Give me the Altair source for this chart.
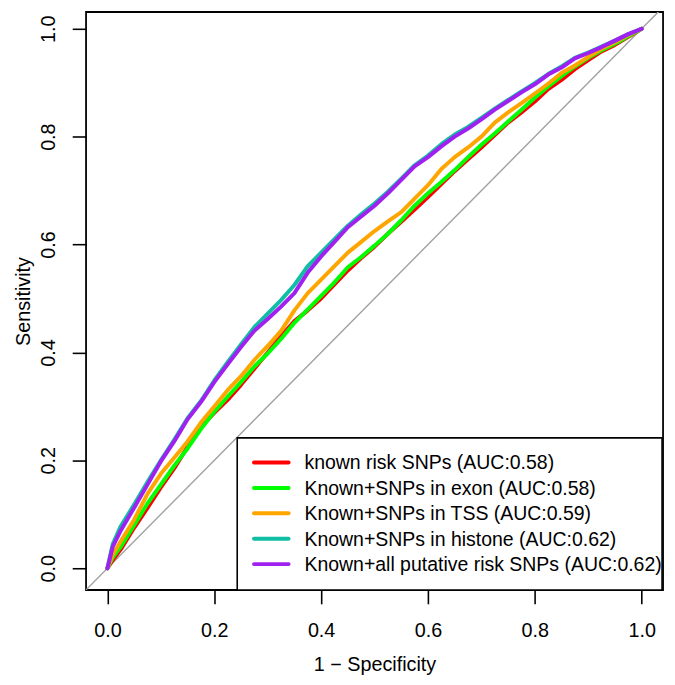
import altair as alt
import pandas as pd

# ---------------- data ----------------
fpr = [0.0, 0.01, 0.025, 0.05, 0.075, 0.1, 0.125, 0.15, 0.175, 0.2, 0.225, 0.25,
       0.275, 0.3, 0.325, 0.35, 0.375, 0.4, 0.425, 0.45, 0.475, 0.5, 0.525, 0.55,
       0.575, 0.6, 0.625, 0.65, 0.675, 0.7, 0.725, 0.75, 0.775, 0.8, 0.825, 0.85,
       0.875, 0.9, 0.925, 0.95, 0.975, 1.0]

tpr_known = [0, .015, .035, .075, .112, .15, .185, .225, .262, .288, .312, .34,
             .37, .40, .43, .458, .478, .50, .526, .552, .575, .596, .62, .642,
             .665, .688, .712, .736, .758, .78, .803, .826, .845, .865, .888, .905,
             .925, .942, .958, .97, .985, 1]
tpr_exon = [0, .02, .04, .08, .12, .155, .19, .222, .258, .29, .318, .345,
            .374, .398, .425, .455, .48, .505, .53, .558, .577, .598, .62, .645,
            .672, .695, .716, .738, .762, .785, .806, .828, .85, .872, .893, .912,
            .93, .946, .96, .972, .986, 1]
tpr_tss = [0, .025, .05, .09, .138, .175, .205, .235, .27, .30, .33, .356,
           .386, .412, .44, .478, .51, .535, .56, .585, .605, .625, .643, .66,
           .685, .71, .74, .762, .78, .80, .826, .845, .862, .88, .898, .918,
           .932, .948, .963, .975, .988, 1]
tpr_histone = [0, .045, .078, .118, .16, .20, .238, .278, .31, .348, .382, .415,
               .447, .472, .497, .525, .56, .585, .61, .635, .656, .676, .698, .722,
               .747, .765, .786, .804, .818, .835, .852, .868, .884, .899, .916, .93,
               .946, .956, .967, .978, .99, 1]
tpr_all = [0, .04, .07, .112, .155, .198, .235, .276, .308, .345, .378, .41,
           .44, .462, .485, .51, .548, .578, .605, .632, .652, .672, .695, .72,
           .745, .762, .782, .80, .815, .832, .85, .866, .882, .897, .915, .928,
           .945, .955, .966, .978, .99, 1]

series_names = ["known risk SNPs (AUC:0.58)",
                "Known+SNPs in exon (AUC:0.58)",
                "Known+SNPs in TSS (AUC:0.59)",
                "Known+SNPs in histone (AUC:0.62)",
                "Known+all putative risk SNPs (AUC:0.62)"]
series_values = [tpr_known, tpr_exon, tpr_tss, tpr_histone, tpr_all]
series_colors = ["#FF0000", "#00FF00", "#FFA500", "#10BDA5", "#A020F0"]

diag_vals = [-0.1, 1.1]
tick_vals = [0.0, 0.2, 0.4, 0.6, 0.8, 1.0]

# ---------------- chart ----------------
FONT = "Liberation Sans"
W, H = 584, 585

xscale = alt.Scale(domain=[-0.04, 1.04], nice=False, zero=False)
yscale = alt.Scale(domain=[-0.0403, 1.031], nice=False, zero=False)

xaxis = alt.Axis(values=tick_vals, format=".1f", tickSize=14, tickWidth=1.6,
                 tickColor="black", domain=False, grid=False,
                 labelFont=FONT, labelFontSize=20, labelColor="black",
                 labelBaseline="alphabetic", labelPadding=33, labelFlush=False,
                 labelOverlap=False,
                 title="1 − Specificity", titleFont=FONT, titleFontSize=20,
                 titleFontWeight="normal", titleColor="black",
                 titleX=W / 2, titleY=81, titleAlign="center",
                 titleBaseline="alphabetic")
yaxis = alt.Axis(values=tick_vals, format=".1f", tickSize=14, tickWidth=1.6,
                 tickColor="black", domain=False, grid=False,
                 labelFont=FONT, labelFontSize=20, labelColor="black",
                 labelAngle=270, labelAlign="center", labelBaseline="alphabetic",
                 labelPadding=18, labelFlush=False, labelOverlap=False,
                 title="Sensitivity", titleFont=FONT, titleFontSize=20,
                 titleFontWeight="normal", titleColor="black",
                 titleAngle=270, titleX=-57, titleY=H / 2, titleAlign="center",
                 titleBaseline="alphabetic")

diag_df = pd.DataFrame({"fpr": diag_vals, "tpr": diag_vals})
diag = alt.Chart(diag_df).mark_line(color="#A0A0A0", strokeWidth=1.4, clip=True).encode(
    x=alt.X("fpr:Q", scale=xscale, axis=xaxis),
    y=alt.Y("tpr:Q", scale=yscale, axis=yaxis),
)

layers = [diag]
for name, vals, col in zip(series_names, series_values, series_colors):
    df = pd.DataFrame({"fpr": fpr, "tpr": vals, "series": name})
    layers.append(
        alt.Chart(df).mark_line(color=col, strokeWidth=4, strokeCap="round",
                                strokeJoin="round", clip=True).encode(
            x=alt.X("fpr:Q", scale=xscale, axis=xaxis),
            y=alt.Y("tpr:Q", scale=yscale, axis=yaxis),
        )
    )

# legend (bottom-right box, as in R's legend())
one = pd.DataFrame({"k": [0]})
LX0, LX1, LY0, LY1 = 153, 583, 431, 585
layers.append(
    alt.Chart(one).mark_rect(fill="white", stroke="black", strokeWidth=1.6).encode(
        x=alt.value(LX0), x2=alt.value(LX1), y=alt.value(LY0), y2=alt.value(LY1))
)
for i, (name, col) in enumerate(zip(series_names, series_colors)):
    yy = 456 + 25.7 * i
    layers.append(
        alt.Chart(one).mark_rule(color=col, strokeWidth=4, strokeCap="round").encode(
            x=alt.value(170), x2=alt.value(205), y=alt.value(yy))
    )
    layers.append(
        alt.Chart(one).mark_text(font=FONT, fontSize=19.7, color="black",
                                 align="left", baseline="middle").encode(
            x=alt.value(221), y=alt.value(yy + 1), text=alt.value(name))
    )

chart = alt.layer(*layers).properties(
    width=W, height=H,
    autosize=alt.AutoSizeParams(type="none"),
    padding={"left": 79, "top": 0, "right": 4, "bottom": 84},
).configure(
    background="white",
    view=alt.ViewConfig(stroke="black", strokeWidth=1.8),
)

chart.save("out.html", embed_options={"renderer": "svg", "actions": False})
